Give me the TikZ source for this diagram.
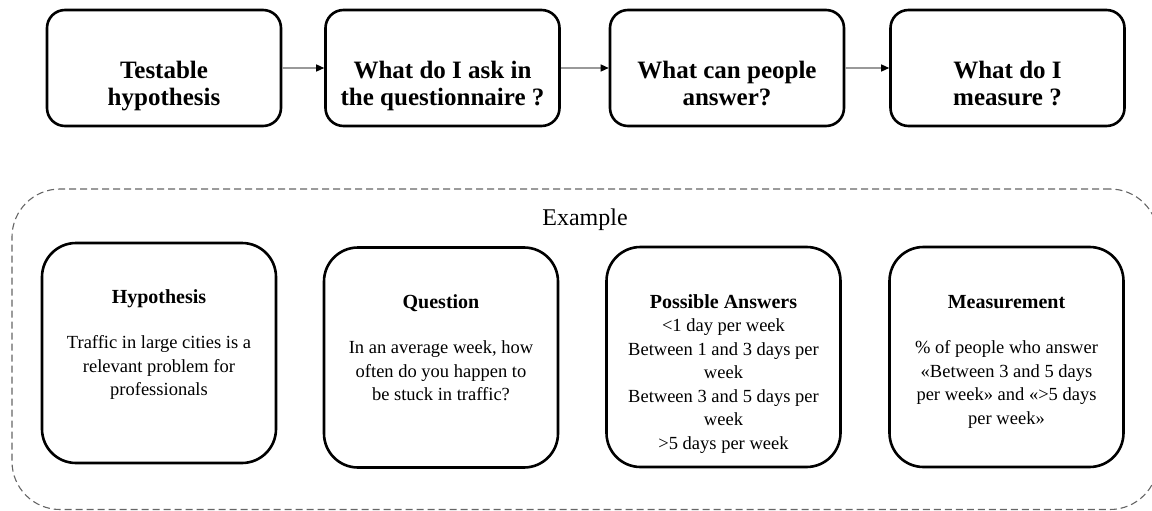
\documentclass[tikz,border=0pt]{standalone}
\usepackage{fontspec}
\setmainfont{Liberation Serif}
\usetikzlibrary{arrows.meta}
\begin{document}
\begin{tikzpicture}[x=1pt,y=-1pt,
  topbox/.style={draw=black,line width=2.6pt,rounded corners=18pt,minimum width=234pt,minimum height=116pt,inner sep=0pt},
  exbox/.style={draw=black,line width=2.6pt,rounded corners=34pt,minimum width=234pt,minimum height=220pt,inner sep=0pt},
  group/.style={draw=black!60,line width=1.1pt,dash pattern=on 7pt off 4pt,rounded corners=48pt,minimum width=1146pt,minimum height=320.5pt,inner sep=0pt},
  toptext/.style={anchor=base,inner sep=0pt,font=\fontsize{25}{28}\selectfont\bfseries},
  extext/.style={anchor=base,inner sep=0pt,font=\fontsize{18.5}{23.5}\selectfont},
  grouplabel/.style={anchor=base,inner sep=0pt,font=\fontsize{24}{28}\selectfont},
  flow/.style={draw=black!40,line width=1.3pt,-{Triangle[length=8pt,width=7pt,color=black]}}
]
\useasboundingbox (0,0) rectangle (1152,511);
\clip (0,0) rectangle (1152,511);
\newcommand\ttl[1]{{\fontsize{20}{23.5}\selectfont\bfseries #1}}
% top row
\node[topbox] (t1) at (164,68) {};
\node[topbox] (t2) at (442.5,68) {};
\node[topbox] (t3) at (727,68) {};
\node[topbox] (t4) at (1007.5,68) {};
\node[toptext] (t1l) at (164,78) {\parbox[t]{230pt}{\centering Testable\\hypothesis}};
\node[toptext] (t2l) at (442.5,78) {\parbox[t]{230pt}{\centering What do I ask in\\the questionnaire ?}};
\node[toptext] (t3l) at (727,78) {\parbox[t]{230pt}{\centering What can people\\answer?}};
\node[toptext] (t4l) at (1007.5,78) {\parbox[t]{230pt}{\centering What do I\\measure ?}};
\draw[flow] (t1) -- (t2);
\draw[flow] (t2) -- (t3);
\draw[flow] (t3) -- (t4);
% example group
\node[group] (grp) at (585,349.25) {};
\node[grouplabel] (grpl) at (585,225) {Example};
\node[exbox] (e1) at (159,353) {};
\node[exbox] (e2) at (441,357.5) {};
\node[exbox] (e3) at (723.5,357) {};
\node[exbox] (e4) at (1006.5,357) {};
\node[extext] (e1l) at (159,303) {\parbox[t]{228pt}{\centering \ttl{Hypothesis}\\[22pt]Traffic in large cities is a\\relevant problem for\\professionals}};
\node[extext] (e2l) at (441,308) {\parbox[t]{228pt}{\centering \ttl{Question}\\[22pt]In an average week, how\\often do you happen to\\be stuck in traffic?}};
\node[extext] (e3l) at (723.5,308) {\parbox[t]{228pt}{\centering \ttl{Possible Answers}\\<1 day per week\\Between 1 and 3 days per\\week\\Between 3 and 5 days per\\week\\>5 days per week}};
\node[extext] (e4l) at (1006.5,308) {\parbox[t]{228pt}{\centering \ttl{Measurement}\\[22pt]\% of people who answer\\«Between 3 and 5 days\\per week» and «>5 days\\per week»}};
\end{tikzpicture}
\end{document}
